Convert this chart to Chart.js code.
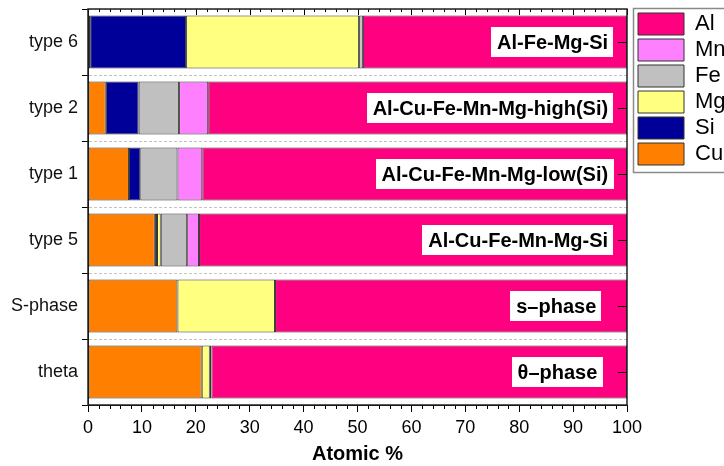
<!DOCTYPE html>
<html><head><meta charset="utf-8">
<script src="https://cdn.jsdelivr.net/npm/chart.js@4/dist/chart.umd.min.js"></script>
<style>html,body{margin:0;padding:0;background:#fff;overflow:hidden}#wrap{width:724px;height:466px;position:relative}</style>
</head><body><div id="wrap"><canvas id="c" width="724" height="466"></canvas></div>
<script>
// ---- data ----
const categories = ['type 6', 'type 2', 'type 1', 'type 5', 'S-phase', 'theta'];
const Cu = [0.4, 3.3, 7.6, 12.4, 16.6, 21.1];
const Si = [17.8, 6.1, 2.1, 0.4, 0, 0];
const Mg = [32.1, 0, 0, 0.7, 18.1, 1.5];
const Fe = [0.7, 7.5, 6.9, 4.9, 0, 0.3];
const Mn = [0, 5.4, 4.6, 2.2, 0, 0];
const Al = [49.0, 77.7, 78.8, 79.4, 65.3, 77.1];
const phaseLabels = ['Al-Fe-Mg-Si', 'Al-Cu-Fe-Mn-Mg-high(Si)', 'Al-Cu-Fe-Mn-Mg-low(Si)', 'Al-Cu-Fe-Mn-Mg-Si', 's\u2013phase', '\u03b8\u2013phase'];
const xTickValues = [0, 10, 20, 30, 40, 50, 60, 70, 80, 90, 100];

// ---- styling / annotation anchors (not data) ----
const labelEnd = [96.5, 96.5, 96.5, 96.5, 94.3, 94.5];
const FONT = '"Liberation Sans", Arial, Helvetica, sans-serif';
const EDGE = '#333333';

const seriesDefs = [
  ['Cu', Cu, '#FF8000'],
  ['Si', Si, '#000099'],
  ['Mg', Mg, '#FFFF80'],
  ['Fe', Fe, '#C0C0C0'],
  ['Mn', Mn, '#FF80FF'],
  ['Al', Al, '#FF0080']
];

const datasets = seriesDefs.map(([name, vals, col]) => ({
  label: name, data: vals, backgroundColor: col, borderColor: EDGE,
  borderWidth: 1, borderSkipped: false, categoryPercentage: 1.0, barPercentage: 0.8
}));

const decor = {
  id: 'decor',
  afterDatasetsDraw(chart) {
    const {ctx, scales: {x, y}} = chart;
    ctx.save();
    ctx.font = 'bold 20px ' + FONT;
    ctx.textBaseline = 'middle';
    ctx.textAlign = 'right';
    phaseLabels.forEach((txt, i) => {
      const yc = y.getPixelForValue(i);
      const xr = x.getPixelForValue(labelEnd[i]);
      const w = ctx.measureText(txt).width;
      ctx.fillStyle = '#ffffff';
      ctx.fillRect(Math.round(xr - w - 6), Math.round(yc - 15), Math.round(w + 11), 30);
      ctx.fillStyle = '#000000';
      ctx.fillText(txt, xr, yc + 1);
    });
    ctx.restore();
  },
  afterDraw(chart) {
    const {ctx, chartArea: a, scales: {x, y}, legend} = chart;
    ctx.save();
    ctx.strokeStyle = '#000';
    ctx.lineWidth = 1;
    ctx.beginPath();
    for (let v = 0; v <= 100; v += 2) {
      const px = Math.round(x.getPixelForValue(v)) + 0.5;
      const major = v % 10 === 0;
      ctx.moveTo(px, a.top); ctx.lineTo(px, a.top + (major ? 6 : 3));
      if (!major) { ctx.moveTo(px, a.bottom); ctx.lineTo(px, a.bottom + 4); }
    }
    for (let i = 0; i < categories.length; i++) {
      const py = Math.round(y.getPixelForValue(i)) + 0.5;
      ctx.moveTo(a.right, py); ctx.lineTo(a.right - 9, py);
    }
    ctx.stroke();
    ctx.strokeStyle = '#222';
    ctx.lineWidth = 1.5;
    ctx.strokeRect(a.left, a.top, a.right - a.left, a.bottom - a.top);
    ctx.strokeStyle = '#8a8a8a';
    ctx.lineWidth = 1.5;
    ctx.strokeRect(legend.left - 0.5, 8.5, 200, 164);
    ctx.restore();
  }
};

new Chart(document.getElementById('c'), {
  type: 'bar',
  data: { labels: categories, datasets },
  plugins: [decor],
  options: {
    indexAxis: 'y', responsive: false, animation: false, devicePixelRatio: 1,
    layout: { padding: { top: 9, left: 0, right: 0, bottom: 0 } },
    plugins: {
      legend: {
        position: 'right', align: 'start', reverse: true, maxWidth: 90,
        labels: { boxWidth: 46, boxHeight: 22, padding: 4, color: '#000', font: { size: 22, family: FONT } }
      },
      tooltip: { enabled: false }
    },
    scales: {
      x: {
        stacked: true, min: 0, max: 100, position: 'bottom',
        afterBuildTicks(s) { s.ticks = xTickValues.map(v => ({ value: v })); },
        ticks: { padding: 5, color: '#000', font: { size: 18, family: FONT }, maxRotation: 0, autoSkip: false },
        grid: { drawOnChartArea: false, tickLength: 7, tickColor: '#000', tickWidth: 1 },
        border: { color: '#000', width: 1 },
        title: { display: true, text: 'Atomic %', color: '#000', font: { size: 20, weight: 'bold', family: FONT }, padding: { top: 4, bottom: 0 } },
        afterFit(s) { s.height = 61; }
      },
      y: {
        stacked: true, position: 'left',
        ticks: { padding: 4, color: '#111', font: { size: 18, family: FONT } },
        grid: { offset: true, color: '#c4c4c4', lineWidth: 1, tickLength: 6, tickColor: '#000', tickWidth: 1 },
        border: { color: '#000', width: 1, dash: [3, 2] },
        afterFit(s) { s.width = 88; s.paddingTop = 0; s.paddingBottom = 0; }
      },
      y2: {
        type: 'category', position: 'right', display: true,
        grid: { display: false }, ticks: { display: false }, border: { display: false },
        afterFit(s) { s.width = 7; s.paddingTop = 0; s.paddingBottom = 0; }
      }
    }
  }
});
</script></body></html>
